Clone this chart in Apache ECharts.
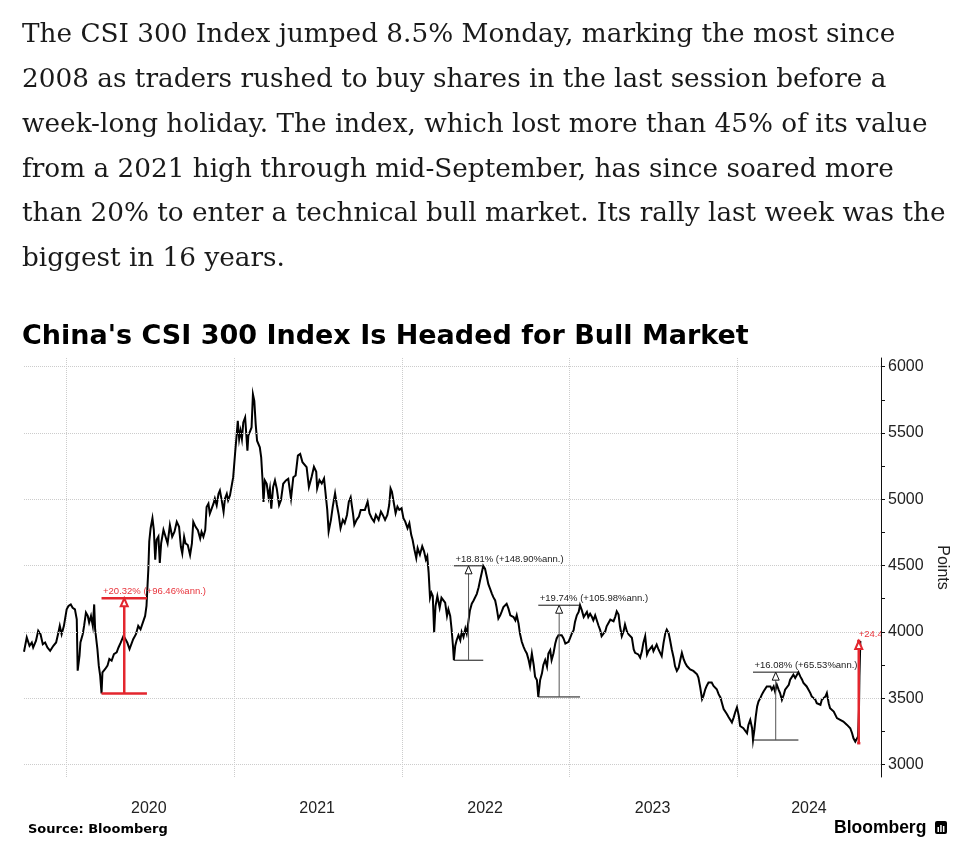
<!DOCTYPE html>
<html>
<head>
<meta charset="utf-8">
<script src="https://cdn.jsdelivr.net/npm/echarts@6/dist/echarts.min.js"></script>
<style>
html,body{margin:0;padding:0;background:#fff;}
#chart{width:978px;height:867px;}
</style>
</head>
<body>
<div id="chart"></div>
<script>
// ---------- DATA ----------
const dates = [
'2019-09-30','2019-10-06','2019-10-12','2019-10-17','2019-10-20','2019-10-26','2019-10-31','2019-11-05','2019-11-10','2019-11-15',
'2019-11-20','2019-11-26','2019-11-29','2019-12-03','2019-12-09','2019-12-14','2019-12-17','2019-12-21','2019-12-26','2020-01-01',
'2020-01-05','2020-01-10','2020-01-14','2020-01-19','2020-01-23','2020-01-25','2020-01-29','2020-01-31','2020-02-05','2020-02-08',
'2020-02-12','2020-02-16','2020-02-19','2020-02-23','2020-02-27','2020-03-01','2020-03-03','2020-03-08','2020-03-11','2020-03-14',
'2020-03-17','2020-03-19','2020-03-25','2020-03-30','2020-04-03','2020-04-08','2020-04-13','2020-04-19','2020-04-23','2020-04-28',
'2020-05-04','2020-05-08','2020-05-12','2020-05-17','2020-05-21','2020-05-25','2020-05-31','2020-06-05','2020-06-10','2020-06-15',
'2020-06-20','2020-06-23','2020-06-27','2020-06-29','2020-07-02','2020-07-06','2020-07-09','2020-07-12','2020-07-15','2020-07-19',
'2020-07-22','2020-07-25','2020-07-30','2020-08-03','2020-08-08','2020-08-13','2020-08-18','2020-08-23','2020-08-28','2020-09-02',
'2020-09-06','2020-09-09','2020-09-13','2020-09-16','2020-09-21','2020-09-26','2020-09-30','2020-10-03','2020-10-08','2020-10-13',
'2020-10-18','2020-10-21','2020-10-25','2020-10-29','2020-11-01','2020-11-05','2020-11-08','2020-11-12','2020-11-16','2020-11-19',
'2020-11-23','2020-11-27','2020-11-30','2020-12-04','2020-12-08','2020-12-11','2020-12-15','2020-12-18','2020-12-22','2020-12-26',
'2020-12-29','2021-01-02','2021-01-06','2021-01-08','2021-01-11','2021-01-14','2021-01-17','2021-01-20','2021-01-24','2021-01-27',
'2021-01-29','2021-01-31','2021-02-04','2021-02-07','2021-02-10','2021-02-13','2021-02-16','2021-02-19','2021-02-22','2021-02-25',
'2021-02-28','2021-03-03','2021-03-05','2021-03-08','2021-03-12','2021-03-16','2021-03-19','2021-03-22','2021-03-26','2021-03-30',
'2021-04-03','2021-04-08','2021-04-12','2021-04-17','2021-04-23','2021-04-28','2021-05-04','2021-05-09','2021-05-14','2021-05-19',
'2021-05-24','2021-05-29','2021-06-02','2021-06-07','2021-06-12','2021-06-18','2021-06-23','2021-06-28','2021-06-30','2021-07-05',
'2021-07-10','2021-07-15','2021-07-19','2021-07-22','2021-07-25','2021-07-30','2021-08-03','2021-08-08','2021-08-12','2021-08-16',
'2021-08-20','2021-08-25','2021-08-29','2021-09-03','2021-09-07','2021-09-11','2021-09-16','2021-09-19','2021-09-24','2021-09-29',
'2021-10-03','2021-10-07','2021-10-12','2021-10-18','2021-10-22','2021-10-27','2021-11-01','2021-11-05','2021-11-11','2021-11-16',
'2021-11-20','2021-11-25','2021-11-30','2021-12-04','2021-12-07','2021-12-10','2021-12-13','2021-12-18','2021-12-22','2021-12-26',
'2021-12-31','2022-01-04','2022-01-08','2022-01-13','2022-01-17','2022-01-21','2022-01-24','2022-01-28','2022-02-01','2022-02-04',
'2022-02-09','2022-02-14','2022-02-18','2022-02-22','2022-02-25','2022-02-28','2022-03-03','2022-03-06','2022-03-09','2022-03-12',
'2022-03-15','2022-03-19','2022-03-24','2022-03-28','2022-04-01','2022-04-05','2022-04-09','2022-04-12','2022-04-16','2022-04-19',
'2022-04-22','2022-04-24','2022-04-27','2022-04-30','2022-05-04','2022-05-08','2022-05-11','2022-05-15','2022-05-19','2022-05-22',
'2022-05-26','2022-05-29','2022-06-02','2022-06-06','2022-06-09','2022-06-13','2022-06-17','2022-06-20','2022-06-24','2022-06-27',
'2022-07-01','2022-07-05','2022-07-08','2022-07-12','2022-07-16','2022-07-19','2022-07-23','2022-07-26','2022-07-30','2022-08-03',
'2022-08-06','2022-08-10','2022-08-14','2022-08-17','2022-08-21','2022-08-25','2022-08-28','2022-09-01','2022-09-05','2022-09-08',
'2022-09-12','2022-09-15','2022-09-19','2022-09-23','2022-09-26','2022-09-30','2022-10-04','2022-10-07','2022-10-11','2022-10-15',
'2022-10-18','2022-10-22','2022-10-25','2022-10-29','2022-11-02','2022-11-05','2022-11-09','2022-11-13','2022-11-16','2022-11-20',
'2022-11-23','2022-11-27','2022-12-01','2022-12-04','2022-12-08','2022-12-12','2022-12-15','2022-12-19','2022-12-23','2022-12-26',
'2022-12-30','2023-01-02','2023-01-06','2023-01-10','2023-01-13','2023-01-17','2023-01-21','2023-01-24','2023-01-28','2023-02-01',
'2023-02-04','2023-02-08','2023-02-11','2023-02-15','2023-02-19','2023-02-22','2023-02-26','2023-03-02','2023-03-05','2023-03-09',
'2023-03-12','2023-03-16','2023-03-20','2023-03-23','2023-03-27','2023-03-31','2023-04-03','2023-04-07','2023-04-11','2023-04-14',
'2023-04-18','2023-04-21','2023-04-25','2023-04-29','2023-05-02','2023-05-06','2023-05-10','2023-05-13','2023-05-17','2023-05-21',
'2023-05-24','2023-05-28','2023-05-31','2023-06-04','2023-06-08','2023-06-11','2023-06-15','2023-06-19','2023-06-22','2023-06-26',
'2023-06-30','2023-07-03','2023-07-07','2023-07-10','2023-07-14','2023-07-18','2023-07-21','2023-07-25','2023-07-29','2023-08-01',
'2023-08-05','2023-08-08','2023-08-12','2023-08-16','2023-08-19','2023-08-23','2023-08-27','2023-08-30','2023-09-03','2023-09-07',
'2023-09-10','2023-09-14','2023-09-17','2023-09-21','2023-09-25','2023-09-28','2023-10-02','2023-10-06','2023-10-09','2023-10-13',
'2023-10-17','2023-10-20','2023-10-24','2023-10-27','2023-10-31','2023-11-04','2023-11-07','2023-11-11','2023-11-15','2023-11-18',
'2023-11-22','2023-11-26','2023-11-29','2023-12-03','2023-12-06','2023-12-10','2023-12-14','2023-12-17','2023-12-21','2023-12-25',
'2023-12-28','2024-01-01','2024-01-05','2024-01-08','2024-01-12','2024-01-15','2024-01-19','2024-01-23','2024-01-26','2024-01-30',
'2024-02-03','2024-02-05','2024-02-08','2024-02-11','2024-02-14','2024-02-17','2024-02-21','2024-02-24','2024-02-28','2024-03-03',
'2024-03-06','2024-03-10','2024-03-14','2024-03-17','2024-03-21','2024-03-24','2024-03-28','2024-04-01','2024-04-04','2024-04-08',
'2024-04-12','2024-04-15','2024-04-19','2024-04-23','2024-04-26','2024-04-30','2024-05-03','2024-05-07','2024-05-11','2024-05-14',
'2024-05-18','2024-05-22','2024-05-25','2024-05-29','2024-06-01','2024-06-05','2024-06-09','2024-06-12','2024-06-16','2024-06-20',
'2024-06-23','2024-06-27','2024-07-01','2024-07-04','2024-07-08','2024-07-12','2024-07-15','2024-07-19','2024-07-22','2024-07-26',
'2024-07-30','2024-08-02','2024-08-06','2024-08-10','2024-08-13','2024-08-17','2024-08-20','2024-08-24','2024-08-28','2024-08-31',
'2024-09-04','2024-09-08','2024-09-11','2024-09-15','2024-09-19','2024-09-21','2024-09-23','2024-09-24','2024-09-26'
];
const values = [
3850,3958,3895,3920,3882,3932,4008,3982,3907,3920,
3882,3857,3845,3895,3920,3995,4045,3982,4045,4170,
4195,4207,4182,4170,4095,3707,3820,3920,3982,4045,
4145,4120,4070,4120,4045,4207,4020,3870,3745,3670,
3535,3695,3720,3745,3795,3782,3832,3845,3882,3920,
3970,3958,3920,3870,3882,3945,3982,4045,4020,4070,
4120,4195,4470,4682,4782,4857,4770,4545,4695,4720,
4520,4670,4770,4782,4667,4805,4717,4755,4830,4792,
4642,4592,4717,4667,4655,4580,4667,4830,4792,4767,
4705,4755,4717,4767,4942,4967,4892,4930,4967,5005,
4955,5042,5067,4992,4905,5005,5042,4992,5030,5042,
5167,5342,5505,5592,5455,5517,5455,5580,5617,5467,
5367,5480,5492,5542,5792,5742,5567,5442,5455,5392,
5317,5142,4980,5142,5117,5017,5080,4930,5092,5142,
5080,4955,4992,5117,5142,5155,5005,5167,5180,5330,
5342,5280,5267,5242,5092,5170,5245,5207,5082,5145,
5120,5157,5145,4920,4757,4845,4945,5045,4957,4882,
4782,4845,4820,4882,4982,5015,4895,4807,4845,4870,
4920,4932,4920,4982,4895,4857,4832,4882,4845,4907,
4882,4845,4882,4957,5082,5057,4995,4895,4945,4920,
4932,4857,4832,4782,4820,4732,4695,4620,4557,4632,
4582,4645,4607,4545,4570,4445,4257,4295,4270,3995,
4195,4270,4182,4257,4270,4220,4120,4170,4120,4020,
3895,3786,3895,3937,3975,3937,4000,3962,4025,3987,
4087,4162,4212,4237,4250,4287,4337,4387,4450,4498,
4475,4412,4362,4325,4287,4262,4237,4187,4100,4125,
4150,4187,4200,4212,4175,4125,4137,4112,4087,4125,
4062,3987,3925,3887,3862,3837,3787,3737,3837,3750,
3662,3637,3509,3637,3687,3750,3787,3737,3837,3862,
3787,3837,3912,3950,3975,3962,3975,3950,3912,3900,
3925,3950,3987,4012,4075,4125,4150,4201,4162,4112,
4125,4150,4112,4137,4112,4087,4125,4112,4050,4012,
3967,3955,4005,4042,4055,4092,4105,4080,4117,4155,
4130,4042,3967,4005,4055,4005,3980,3992,3955,3867,
3842,3855,3830,3805,3855,3917,3967,3830,3855,3842,
3892,3855,3867,3905,3867,3855,3817,3917,3992,4017,
3992,3942,3867,3805,3742,3705,3730,3780,3842,3792,
3767,3742,3730,3717,3730,3705,3692,3680,3655,3580,
3492,3517,3567,3592,3617,3630,3617,3592,3580,3567,
3530,3505,3467,3417,3405,3380,3355,3355,3317,3355,
3392,3430,3367,3290,3298,3273,3285,3235,3298,3336,
3273,3184,3260,3361,3437,3475,3500,3525,3550,3563,
3588,3601,3588,3563,3588,3550,3601,3563,3538,3487,
3525,3563,3550,3601,3639,3652,3677,3652,3664,3696,
3664,3639,3614,3601,3588,3563,3538,3513,3500,3487,
3462,3475,3450,3487,3475,3513,3538,3462,3424,3412,
3399,3386,3349,3361,3336,3349,3323,3311,3298,3298,
3273,3235,3197,3172,3160,3210,3412,3664,3931
];
const yTickValues = [3000,3500,4000,4500,5000,5500,6000];
const yMinorTickValues = [3000,3250,3500,3750,4000,4250,4500,4750,5000,5250,5500,5750,6000];
const yearStarts = ['2020-01-01','2021-01-01','2022-01-01','2023-01-01','2024-01-01'];
const yearLabelDates = ['2020-06-28','2021-06-30','2022-07-01','2023-07-01','2024-06-06'];
const axisStart = '2019-09-30';
const axisEnd = '2024-11-10';
const axisMin = 2905;
const axisMax = 6066;

const annLowDates  = ['2020-03-17','2022-04-24','2022-10-25','2024-02-05','2024-09-19'];
const annHighDates = ['2020-06-24','2022-06-27','2023-01-24','2024-05-14','2024-09-26'];
const annLowValues  = [3535,3786,3509,3184,3160];
const annHighValues = [4253,4498,4201,3696,3931];
const annLabels = ['+20.32% (+96.46%ann.)','+18.81% (+148.90%ann.)','+19.74% (+105.98%ann.)','+16.08% (+65.53%ann.)','+24.40%'];
const annHighlighted = [true,false,false,false,true];

const paragraph = [
'The CSI 300 Index jumped 8.5% Monday, marking the most since',
'2008 as traders rushed to buy shares in the last session before a',
'week-long holiday. The index, which lost more than 45% of its value',
'from a 2021 high through mid-September, has since soared more',
'than 20% to enter a technical bull market. Its rally last week was the',
'biggest in 16 years.'
];
const titleText = "China's CSI 300 Index Is Headed for Bull Market";
const sourceText = 'Source: Bloomberg';

// ---------- CHART ----------
const toTime = d => Date.parse(d + 'T00:00:00Z');
const RED = '#e3262e';
const GRID_COLOR = '#cccccc';
const chart = echarts.init(document.getElementById('chart'), null, {renderer: 'canvas'});

const option = {
  animation: false,
  backgroundColor: '#fff',
  grid: {left: 24, right: 97, top: 358, bottom: 90, containLabel: false},
  xAxis: {
    type: 'value',
    min: toTime(axisStart),
    max: toTime(axisEnd),
    scale: true,
    axisLine: {show: false},
    axisTick: {show: false, customValues: yearStarts.map(toTime)},
    axisLabel: {
      customValues: yearLabelDates.map(toTime),
      formatter: v => String(new Date(v).getUTCFullYear()),
      fontSize: 16, color: '#222', fontFamily: 'Liberation Sans', margin: 24
    },
    splitLine: {show: true, lineStyle: {type: 'dotted', color: GRID_COLOR, width: 1}}
  },
  yAxis: {
    type: 'value',
    position: 'right',
    min: axisMin,
    max: axisMax,
    axisLine: {show: true, lineStyle: {color: '#111', width: 1}},
    axisTick: {show: true, customValues: yMinorTickValues, length: 4, lineStyle: {color: '#111'}},
    axisLabel: {customValues: yTickValues, formatter: v => String(v), fontSize: 16, color: '#222', fontFamily: 'Liberation Sans', margin: 7},
    splitLine: {show: false},
    name: 'Points',
    nameLocation: 'middle',
    nameRotate: -90,
    nameGap: 43,
    nameTextStyle: {fontSize: 16, color: '#222', fontFamily: 'Liberation Sans'}
  },
  series: [
    {
      type: 'line',
      data: dates.map((d, i) => [toTime(d), values[i]]),
      showSymbol: false,
      symbol: 'none',
      smooth: false,
      sampling: null,
      lineStyle: {color: '#000', width: 2, join: 'miter', cap: 'butt'},
      z: 3,
      markLine: {
        silent: true,
        symbol: 'none',
        label: {show: false},
        lineStyle: {type: 'dotted', color: GRID_COLOR, width: 1},
        data: yTickValues.map(v => ({yAxis: v}))
      }
    },
    {
      type: 'custom',
      clip: true,
      z: 5,
      encode: {x: [0, 1], y: [2, 3]},
      data: annLowDates.map((d, i) => [toTime(d), toTime(annHighDates[i]), annLowValues[i], annHighValues[i]]),
      renderItem: function (params, api) {
        const i = params.dataIndex;
        const p0 = api.coord([api.value(0), api.value(2)]);
        const p1 = api.coord([api.value(1), api.value(3)]);
        const hl = annHighlighted[i];
        const col = hl ? RED : '#111';
        const w = hl ? 2.5 : 1;
        const xm = (p0[0] + p1[0]) / 2;
        const yb = p0[1], yt = p1[1];
        const th = 8, tw = 3.5;
        return {
          type: 'group',
          children: [
            {type: 'line', shape: {x1: p0[0], y1: yb, x2: p1[0], y2: yb}, style: {stroke: col, lineWidth: w}},
            {type: 'line', shape: {x1: p0[0], y1: yt, x2: p1[0], y2: yt}, style: {stroke: col, lineWidth: w}},
            {type: 'line', shape: {x1: xm, y1: yb, x2: xm, y2: yt + th}, style: {stroke: hl ? col : '#555', lineWidth: w}},
            {type: 'polygon', shape: {points: [[xm, yt], [xm - tw, yt + th], [xm + tw, yt + th]]}, style: {fill: '#fff', stroke: col, lineWidth: hl ? 2 : 1}},
            {type: 'text', x: p0[0] + 1.5, y: yt - 1.5, style: {text: annLabels[i], fill: hl ? '#e8333b' : '#222', font: '9.5px "Liberation Sans"', textVerticalAlign: 'bottom', textAlign: 'left'}}
          ]
        };
      }
    }
  ],
  graphic: [
    {type: 'text', left: 22, top: 13, style: {text: paragraph.join('\n'), font: '26.3px "DejaVu Serif"', fill: '#1a1a1a', lineHeight: 44.8}},
    {type: 'text', left: 22, top: 320, style: {text: titleText, font: 'bold 27px "DejaVu Sans"', fill: '#000', lineHeight: 34}},
    {type: 'text', left: 28, top: 822, style: {text: sourceText, font: 'bold 13px "DejaVu Sans"', fill: '#000', lineHeight: 16}},
    {type: 'text', left: 834, top: 818, style: {text: 'Bloomberg', font: 'bold 17.5px "Liberation Sans"', fill: '#000', lineHeight: 20}},
    {type: 'group', left: 935, top: 821, children: [
      {type: 'rect', shape: {x: 0, y: 0, width: 12, height: 13, r: 2}, style: {fill: '#000'}},
      {type: 'rect', shape: {x: 2.5, y: 6, width: 1.5, height: 5}, style: {fill: '#fff'}},
      {type: 'rect', shape: {x: 5.2, y: 4, width: 1.5, height: 7}, style: {fill: '#fff'}},
      {type: 'rect', shape: {x: 7.9, y: 5, width: 1.5, height: 6}, style: {fill: '#fff'}}
    ]}
  ]
};
chart.setOption(option);
</script>
</body>
</html>
